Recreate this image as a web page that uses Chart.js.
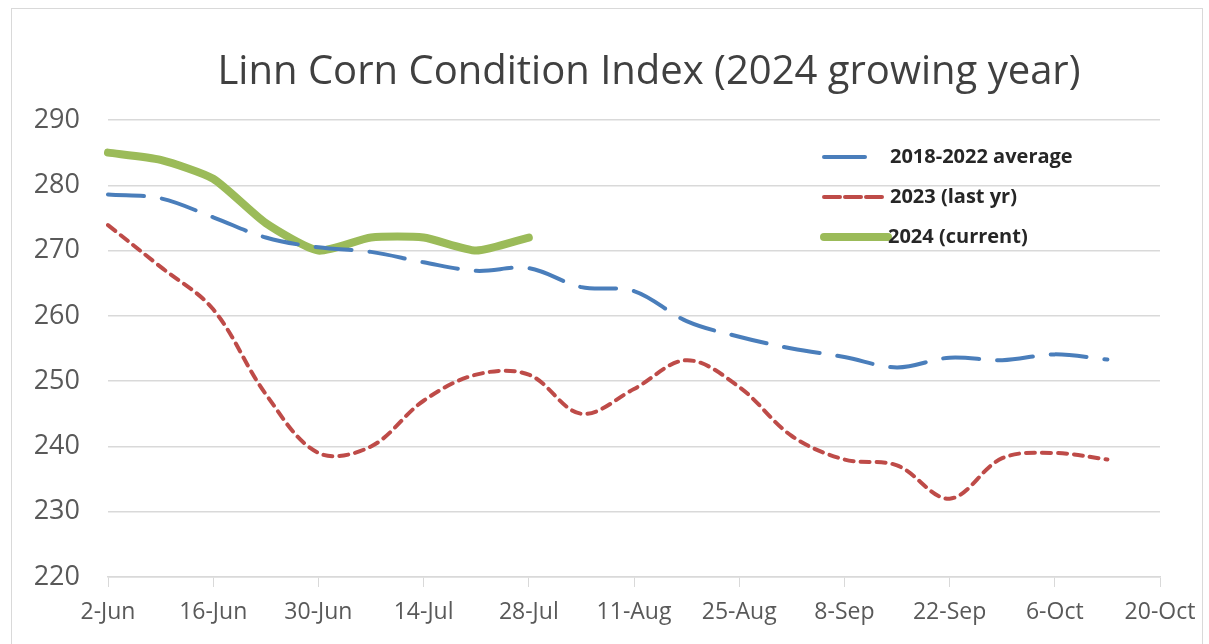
<!DOCTYPE html>
<html>
<head>
<meta charset="utf-8">
<script src="https://cdn.jsdelivr.net/npm/chart.js@4"></script>
<style>
  html, body { margin: 0; padding: 0; background: #fff; }
  #wrap { position: relative; width: 1209px; height: 644px; }
  #frame { position: absolute; left: 11px; top: 8px; right: 6px; bottom: -4px; border: 1px solid #d9d9d9; }
  canvas { position: absolute; left: 0; top: 0; }
</style>
</head>
<body>
<div id="wrap">
  <div id="frame"></div>
  <canvas id="chart" width="1209" height="644"></canvas>
</div>
<script>
// weekly dates, 2-Jun to 20-Oct
const weeks = ['2-Jun', '9-Jun', '16-Jun', '23-Jun', '30-Jun', '7-Jul', '14-Jul', '21-Jul', '28-Jul',
  '4-Aug', '11-Aug', '18-Aug', '25-Aug', '1-Sep', '8-Sep', '15-Sep', '22-Sep', '29-Sep', '6-Oct', '13-Oct', '20-Oct'];

const avg1822 = [278.6, 278.0, 275.1, 272.0, 270.5, 269.8, 268.2, 266.9, 267.3, 264.4, 263.8,
  259.2, 256.8, 255.0, 253.7, 252.1, 253.6, 253.2, 254.1, 253.3, null];
const lastYear = [273.9, 267.5, 261.0, 248.0, 239.0, 240.0, 247.0, 251.0, 251.0, 245.0, 248.8,
  253.2, 249.1, 241.6, 238.0, 237.1, 232.0, 238.2, 239.0, 238.0, null];
const current = [285.0, 283.9, 281.0, 274.2, 270.0, 272.0, 272.0, 270.0, 272.0];

const seriesNames = ['2018-2022 average', '2023 (last yr)', '2024 (current)'];
const yTicks = [220, 230, 240, 250, 260, 270, 280, 290];
const chartTitle = 'Linn Corn Condition Index (2024 growing year)';

const textColor = '#404040';
const gridColor = '#d9d9d9';

// title sits a bit right of the canvas centre, so it is drawn here
const titleText = {
  id: 'titleText',
  afterDraw(chart) {
    const ctx = chart.ctx;
    ctx.save();
    ctx.fillStyle = textColor;
    ctx.font = '40px "Open Sans", sans-serif';
    ctx.textAlign = 'center';
    ctx.textBaseline = 'middle';
    ctx.fillText(chartTitle, 649, 73);
    ctx.restore();
  }
};

// legend drawn inside the plot, upper right
const insideLegend = {
  id: 'insideLegend',
  afterDatasetsDraw(chart) {
    const ctx = chart.ctx;
    const rows = [
      { y: 157, x0: 824, x1: 865, tx: 890 },
      { y: 197, x0: 824, x1: 883, tx: 890 },
      { y: 237, x0: 824, x1: 888, tx: 888 }
    ];
    ctx.save();
    chart.data.datasets.forEach((ds, i) => {
      const r = rows[i];
      ctx.beginPath();
      ctx.strokeStyle = ds.borderColor;
      ctx.lineWidth = ds.borderWidth;
      ctx.setLineDash(i === 1 ? [16, 5] : []);
      ctx.lineCap = 'round';
      ctx.moveTo(r.x0, r.y);
      ctx.lineTo(r.x1, r.y);
      ctx.stroke();
      ctx.setLineDash([]);
      ctx.fillStyle = '#262626';
      ctx.font = 'bold 20px "Open Sans", sans-serif';
      ctx.textBaseline = 'middle';
      ctx.fillText(ds.label, r.tx, r.y);
    });
    ctx.restore();
  }
};

new Chart(document.getElementById('chart'), {
  type: 'line',
  data: {
    labels: weeks,
    datasets: [
      {
        label: seriesNames[0],
        data: avg1822,
        borderColor: '#4a7ebb',
        borderWidth: 4,
        borderDash: [36, 18],
        borderCapStyle: 'round',
        tension: 0.35,
        pointRadius: 0
      },
      {
        label: seriesNames[1],
        data: lastYear,
        borderColor: '#be4b48',
        borderWidth: 4,
        borderDash: [9, 7],
        borderCapStyle: 'round',
        tension: 0.35,
        pointRadius: 0
      },
      {
        label: seriesNames[2],
        data: current,
        borderColor: '#9bbb59',
        borderWidth: 8,
        borderCapStyle: 'round',
        borderJoinStyle: 'round',
        tension: 0.2,
        pointRadius: 0
      }
    ]
  },
  options: {
    responsive: false,
    animation: false,
    layout: { padding: { left: 0, right: 49, top: 120, bottom: 0 } },
    plugins: {
      legend: { display: false },
      tooltip: { enabled: false },
      title: { display: false }
    },
    scales: {
      x: {
        offset: false,
        grid: {
          display: true,
          drawOnChartArea: false,
          drawTicks: true,
          tickLength: 10,
          color: ctx => (ctx.index % 2 === 0 ? gridColor : 'rgba(0,0,0,0)')
        },
        border: { color: gridColor, width: 1.5 },
        ticks: {
          autoSkip: false,
          maxRotation: 0,
          padding: 12,
          color: '#595959',
          font: { family: '"Open Sans", sans-serif', size: 23 },
          callback: (v, i) => (i % 2 === 0 ? weeks[i] : '')
        },
        afterFit: s => { s.height = 67; }
      },
      y: {
        min: 220,
        max: 290,
        afterBuildTicks: s => { s.ticks = yTicks.map(v => ({ value: v })); },
        grid: { color: gridColor, lineWidth: 1.5, drawTicks: false },
        border: { display: false },
        ticks: {
          padding: 28,
          color: '#595959',
          font: { family: '"Open Sans", sans-serif', size: 27 }
        },
        afterFit: s => { s.width = 108; }
      }
    }
  },
  plugins: [titleText, insideLegend]
});
</script>
</body>
</html>
